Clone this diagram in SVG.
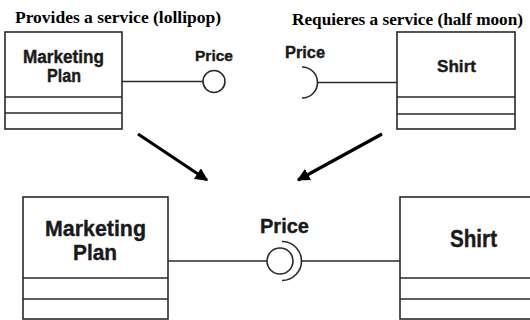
<svg xmlns="http://www.w3.org/2000/svg" width="530" height="320" viewBox="0 0 530 320">
<defs>
<style>
.box{fill:#fff;stroke:#2a2a2a;stroke-width:1.6}
.ln{fill:none;stroke:#2a2a2a;stroke-width:1.6}
.lbl{font-family:"Liberation Sans",Arial,sans-serif;font-weight:bold;fill:#1a1a1a;stroke:#1a1a1a;stroke-width:0.4;text-anchor:start}
.ttl{font-family:"Liberation Serif","Times New Roman",serif;font-weight:bold;fill:#000;font-size:16px}
.arr{stroke:#000;stroke-width:3.2;fill:none}
</style>
<marker id="ah" viewBox="0 0 10 10" refX="9" refY="5" markerWidth="4" markerHeight="4" orient="auto" markerUnits="strokeWidth">
<path d="M0,0 L10,5 L0,10 Z" fill="#000"/>
</marker>
</defs>
<rect width="530" height="320" fill="#fff"/>

<g id="titles">
<text class="ttl" x="15" y="23" textLength="206" lengthAdjust="spacingAndGlyphs">Provides a service (lollipop)</text>
<text class="ttl" x="292" y="25" textLength="231" lengthAdjust="spacingAndGlyphs">Requieres a service (half moon)</text>
</g>

<g id="connectors">
<line class="ln" x1="122" y1="81.5" x2="203" y2="81.5"/>
<line class="ln" x1="317" y1="82.5" x2="397" y2="82.5"/>
<line class="ln" x1="168" y1="261" x2="267" y2="261"/>
<line class="ln" x1="301" y1="261" x2="400" y2="261"/>
<line class="arr" x1="138" y1="134" x2="207" y2="180" marker-end="url(#ah)"/>
<line class="arr" x1="382" y1="134" x2="298" y2="180" marker-end="url(#ah)"/>
</g>

<g id="top-marketing-plan">
<rect class="box" x="5" y="32" width="117" height="97"/>
<line class="ln" x1="5" y1="97" x2="122" y2="97"/>
<line class="ln" x1="5" y1="113" x2="122" y2="113"/>
<text class="lbl" x="23" y="63" font-size="18" textLength="81" lengthAdjust="spacingAndGlyphs">Marketing</text>
<text class="lbl" x="47" y="82" font-size="18" textLength="34" lengthAdjust="spacingAndGlyphs">Plan</text>
</g>

<g id="top-lollipop">
<circle class="ln" cx="214" cy="81.5" r="11"/>
<text class="lbl" x="195" y="61" font-size="15.5" textLength="38" lengthAdjust="spacingAndGlyphs">Price</text>
</g>

<g id="top-half-moon">
<path class="ln" d="M302,67 A15.5,15.5 0 0 1 302,98"/>
<text class="lbl" x="285" y="58" font-size="16" textLength="40" lengthAdjust="spacingAndGlyphs">Price</text>
</g>

<g id="top-shirt">
<rect class="box" x="397" y="32" width="118" height="97"/>
<line class="ln" x1="397" y1="97" x2="515" y2="97"/>
<line class="ln" x1="397" y1="114" x2="515" y2="114"/>
<text class="lbl" x="437" y="72" font-size="17" textLength="39" lengthAdjust="spacingAndGlyphs">Shirt</text>
</g>

<g id="bottom-marketing-plan">
<rect class="box" x="23" y="197" width="145" height="122"/>
<line class="ln" x1="23" y1="278" x2="168" y2="278"/>
<line class="ln" x1="23" y1="299" x2="168" y2="299"/>
<text class="lbl" x="45" y="236" font-size="22.5" textLength="101" lengthAdjust="spacingAndGlyphs">Marketing</text>
<text class="lbl" x="73" y="260" font-size="22.5" textLength="44" lengthAdjust="spacingAndGlyphs">Plan</text>
</g>

<g id="bottom-ball-and-socket">
<circle class="ln" cx="280" cy="261" r="13"/>
<path class="ln" d="M282,241.5 A19.5,19.5 0 0 1 282,280.5"/>
<text class="lbl" x="260" y="233" font-size="21" textLength="49" lengthAdjust="spacingAndGlyphs">Price</text>
</g>

<g id="bottom-shirt">
<rect class="box" x="400" y="197" width="140" height="122"/>
<line class="ln" x1="400" y1="278" x2="530" y2="278"/>
<line class="ln" x1="400" y1="299" x2="530" y2="299"/>
<text class="lbl" x="450" y="247" font-size="23" textLength="47" lengthAdjust="spacingAndGlyphs">Shirt</text>
</g>
</svg>
